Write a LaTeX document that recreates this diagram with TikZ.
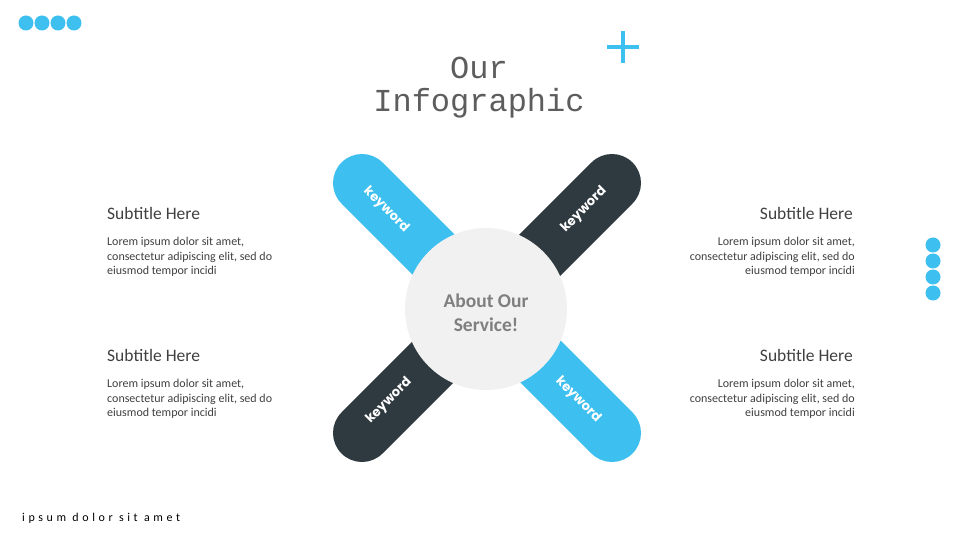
\documentclass[tikz,border=0pt]{standalone}
\usepackage{fontspec}
\setmainfont{Carlito}
\newfontfamily\titlefont{Liberation Mono}
\newfontfamily\keyfont{Poppins}
\newfontfamily\spacedfont[LetterSpace=30]{Carlito}
\usepackage{xcolor}
\usepackage{tikz}
\definecolor{infoblue}{HTML}{3DBFEF}
\definecolor{infodark}{HTML}{2F3A40}
\definecolor{infolight}{HTML}{F1F1F1}
\definecolor{infogray}{HTML}{7F7F7F}
\definecolor{infotext}{HTML}{404040}

\begin{document}
\begin{tikzpicture}[x=1pt,y=1pt,
    keyword/.style={font=\keyfont\bfseries\fontsize{13}{13}\selectfont,color=white},
    subtitle/.style={font=\fontsize{17.5}{17.5}\selectfont,color=infotext,inner sep=0pt},
    bodytext/.style={font=\fontsize{12}{14.5}\selectfont,color=infotext,inner sep=0pt}]
  \useasboundingbox[fill=white] (0,0) rectangle (960,540);
  % corner dots
  \foreach \x in {26,42,58,74}
    \fill[infoblue] (\x,517) circle (7.5);
  \foreach \y in {247,263,279,295}
    \fill[infoblue] (933,\y) circle (7.5);
  \draw[infoblue,line width=3.5] (607,493) -- (639,493) (623,477) -- (623,509);
  % title
  \node[font=\titlefont\fontsize{32}{33}\selectfont,color=infotext!85,align=center] (title) at (479,452) {Our\\Infographic};
  % cross
  \draw[infoblue,line width=58,line cap=round] (362,357) -- (612,107);
  \draw[infodark,line width=58,line cap=round] (612,357) -- (362,107);
  \node[circle,fill=infolight,minimum size=162,inner sep=0pt] (about) at (486,231) {};
  \node[font=\bfseries\fontsize{19.5}{24}\selectfont,color=infogray,align=center] at (486,227) {About Our\\Service!};
  \node[keyword,rotate=-45] (kw1) at (386,330) {keyword};
  \node[keyword,rotate=45] (kw2) at (584,330) {keyword};
  \node[keyword,rotate=45] (kw3) at (389,139) {keyword};
  \node[keyword,rotate=-45] (kw4) at (578,140) {keyword};
  % text blocks
  \node[subtitle,anchor=base west] (sub1) at (107,320) {Subtitle Here};
  \node[subtitle,anchor=base east] (sub2) at (853,320) {Subtitle Here};
  \node[subtitle,anchor=base west] (sub3) at (107,178) {Subtitle Here};
  \node[subtitle,anchor=base east] (sub4) at (853,178) {Subtitle Here};
  \node[bodytext,anchor=north west,align=left] (txt1) at (107,303) {Lorem ipsum dolor sit amet,\\consectetur adipiscing elit, sed do\\eiusmod tempor incidi};
  \node[bodytext,anchor=north east,align=right] (txt2) at (855,303) {Lorem ipsum dolor sit amet,\\consectetur adipiscing elit, sed do\\eiusmod tempor incidi};
  \node[bodytext,anchor=north west,align=left] (txt3) at (107,161) {Lorem ipsum dolor sit amet,\\consectetur adipiscing elit, sed do\\eiusmod tempor incidi};
  \node[bodytext,anchor=north east,align=right] (txt4) at (855,161) {Lorem ipsum dolor sit amet,\\consectetur adipiscing elit, sed do\\eiusmod tempor incidi};
  \node[font=\spacedfont\fontsize{12}{12}\selectfont,color=black,anchor=base west,inner sep=0pt] (foot) at (22,18) {ipsum dolor sit amet};
\end{tikzpicture}
\end{document}
